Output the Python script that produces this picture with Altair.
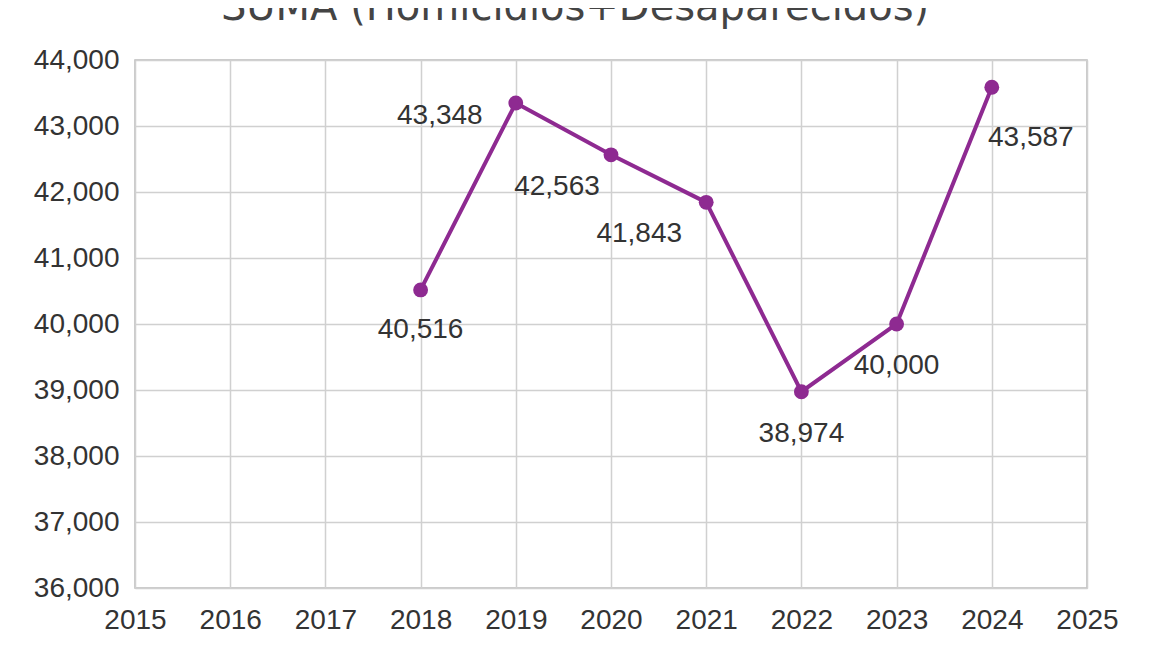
import altair as alt
import pandas as pd

years = [2018, 2019, 2020, 2021, 2022, 2023, 2024]
totals = [40516, 43348, 42563, 41843, 38974, 40000, 43587]
x_ticks = list(range(2015, 2026))
y_ticks = list(range(36000, 44001, 1000))
title_text = "SUMA (Homicidios+Desaparecidos)"

df = pd.DataFrame({"year": years, "total": totals})

PURPLE = "#8e2a91"
FONT = "Liberation Sans"

x_enc = alt.X(
    "year:Q",
    scale=alt.Scale(domain=[2015, 2025], nice=False),
    axis=alt.Axis(values=x_ticks, format="d", title=None, labelFontSize=28,
                  labelPadding=18, labelFlush=False, tickSize=0, domain=False),
)
y_enc = alt.Y(
    "total:Q",
    scale=alt.Scale(domain=[36000, 44000], nice=False, zero=False),
    axis=alt.Axis(values=y_ticks, format=",d", title=None, labelFontSize=28,
                  labelPadding=16, tickSize=0, domain=False),
)

base = alt.Chart(df)

line = base.mark_line(color=PURPLE, strokeWidth=4).encode(x=x_enc, y=y_enc)
points = base.mark_circle(color=PURPLE, size=220, opacity=1).encode(x=x_enc, y=y_enc)

# per-point label offsets, as placed in the original
offsets = {
    2018: (0, 40),
    2019: (-76, 13),
    2020: (-54, 32),
    2021: (-67, 32),
    2022: (0, 42),
    2023: (0, 42),
    2024: (39, 51),
}
labels = []
for yr, (dx, dy) in offsets.items():
    labels.append(
        base.transform_filter(alt.datum.year == yr)
        .mark_text(font=FONT, fontSize=28, color="#333333", dx=dx, dy=dy)
        .encode(x=x_enc, y=y_enc, text=alt.Text("total:Q", format=",d"))
    )

title = alt.Chart(pd.DataFrame({"t": [title_text]})).mark_text(
    font="DejaVu Sans", fontSize=40, color="#444444", baseline="alphabetic"
).encode(text="t:N", x=alt.value(440), y=alt.value(-40))

chart = alt.layer(line, points, *labels, title).properties(
    width=952,
    height=528,
    autosize=alt.AutoSizeParams(type="none"),
    padding={"left": 127, "top": 52, "right": 57, "bottom": 60},
    background="white",
).configure_axis(
    gridColor="#d0d0d0",
    gridWidth=1.5,
    labelFont=FONT,
    labelColor="#333333",
).configure_view(
    stroke="#bbbbbb",
    strokeWidth=1.5,
)

chart.save("out.html", embed_options={"renderer": "svg", "actions": False})
